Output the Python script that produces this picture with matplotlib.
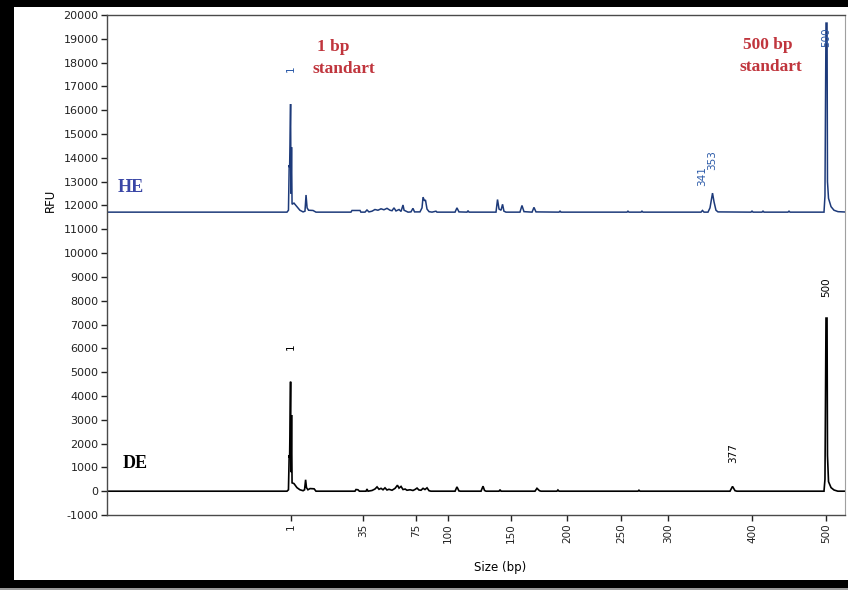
import numpy as np
import matplotlib
matplotlib.use("Agg")
import matplotlib.pyplot as plt
from matplotlib.patches import Rectangle

plt.rcParams["font.family"] = ["DejaVu Sans"]
plt.rcParams["axes.unicode_minus"] = False

# Size-standard calibration: fragment size (bp) -> scan position
LADDER_SIZES = [1, 35, 75, 100, 150, 200, 250, 300, 400, 500]
LADDER_SCANS = [184, 256, 309, 341, 404, 460, 514, 561, 645, 719]
SCAN_RANGE = (0, 738)
TICK_LABELS = ["1", "35", "75", "100", "150", "200", "250", "300", "400", "500"]

# Y axis ticks (RFU)
Y_TICKS = list(range(-1000, 20001, 1000))

# HE sample trace (size bp, RFU as displayed, offset above DE)
HE_TRACE = [
    (-90, 11720), (-0.9, 11720), (-0.2, 11800), (0.15, 13700), (0.35, 13600),
    (0.8, 16260), (1.0, 12500), (1.25, 14450), (1.5, 12050), (2.4, 12100),
    (3.8, 11950), (5.2, 11800), (6.7, 11730), (7.6, 11760), (8.1, 12440),
    (8.6, 11900), (9.3, 11800), (11.4, 11790), (12.8, 11720),
    (29.3, 11720), (29.8, 11790), (33.6, 11790), (34.0, 11720),
    (36.5, 11720), (38.0, 11810), (39.5, 11730), (41.8, 11760), (44.0, 11830),
    (46.3, 11800), (48.6, 11860), (50.8, 11820), (53.1, 11880), (55.4, 11800),
    (56.9, 11780), (58.4, 11900), (59.9, 11770), (62.2, 11830), (63.7, 11750),
    (65.2, 12020), (66.0, 11800), (67.5, 11760), (69.0, 11720),
    (71.2, 11730), (72.7, 11880), (73.9, 11730), (78.1, 11730), (79.7, 11900),
    (80.5, 12350), (81.6, 12200), (82.4, 12230), (83.6, 11850), (85.2, 11740),
    (87.5, 11720), (90.6, 11760), (91.4, 11720),
    (105.6, 11720), (107.1, 11900), (108.7, 11730), (115.1, 11720),
    (115.9, 11780), (116.7, 11720),
    (138.1, 11720), (139.3, 12250), (140.5, 11850), (142.1, 11800),
    (143.3, 12050), (144.4, 11760), (146.0, 11720),
    (158.0, 11720), (159.8, 12000), (161.6, 11740), (168.8, 11720),
    (170.5, 11920), (172.3, 11730),
    (192.9, 11720), (193.8, 11770), (194.6, 11720), (256.4, 11720),
    (257.4, 11760), (258.5, 11720), (271.3, 11720), (272.3, 11760), (273.4, 11720),
    (339.3, 11720), (341.0, 11790), (342.9, 11720), (347.6, 11720),
    (350.0, 11900), (353.0, 12520), (354.8, 12150), (357.1, 11800), (359.5, 11730),
    (398.8, 11720), (400.0, 11770), (401.4, 11720), (413.5, 11720),
    (414.9, 11770), (416.2, 11720), (448.6, 11720), (450.0, 11760), (451.4, 11720),
    (497.3, 11720), (498.6, 12400), (499.3, 16130), (500.0, 19660),
    (501.4, 19660), (502.0, 13000), (503.4, 12300), (506.8, 11950),
    (510.8, 11800), (516.2, 11740), (530, 11720),
]

# DE sample trace (size bp, RFU)
DE_TRACE = [
    (-90, 0), (-0.9, 0), (-0.2, 60), (0.15, 1520), (0.35, 1400), (0.8, 4600),
    (1.0, 800), (1.25, 3200), (1.5, 350), (2.4, 320), (3.8, 150), (5.2, 60),
    (6.7, 20), (7.4, 60), (7.9, 480), (8.3, 150), (9.0, 60), (10.0, 110),
    (11.9, 100), (12.8, 0),
    (31.2, 0), (31.7, 70), (32.6, 60), (33.3, 0),
    (37.3, 0), (38.0, 90), (38.8, 0),
    (41.8, 30), (44.0, 90), (45.6, 180), (47.1, 80), (48.6, 120), (50.1, 60),
    (51.6, 140), (53.1, 50), (54.6, 80), (56.9, 40), (59.2, 120), (61.0, 250),
    (62.2, 130), (63.7, 200), (65.2, 70), (66.8, 90), (68.2, 40), (70.5, 60),
    (72.7, 30), (74.2, 70), (75.8, 130), (77.3, 50), (78.9, 40), (80.5, 120),
    (82.0, 70), (83.6, 140), (85.2, 20), (86.7, 0),
    (105.6, 0), (107.1, 180), (108.7, 10), (110.0, 0),
    (126.2, 0), (127.8, 210), (129.0, 30), (130.2, 0),
    (140.5, 0), (141.3, 60), (142.1, 0),
    (171.4, 0), (173.2, 120), (175.4, 20), (176.8, 0),
    (191.0, 0), (191.9, 50), (192.9, 0),
    (268.1, 0), (269.1, 40), (270.2, 0),
    (373.8, 0), (376.8, 200), (379.8, 20), (382.1, 0),
    (497.3, 0), (498.6, 500), (499.3, 3740), (500.0, 7270), (501.4, 7270),
    (502.0, 1500), (503.4, 400), (506.8, 150), (510.8, 50), (516.0, 0), (530, 0),
]

# Called peaks (size labels)
HE_CALLS = [1, 341, 353, 500]
DE_CALLS = [1, 377, 500]


def _interp_ext(x, xp, fp):
    x = np.asarray(x, dtype=float)
    xp = np.asarray(xp, dtype=float)
    fp = np.asarray(fp, dtype=float)
    y = np.interp(x, xp, fp)
    lo_slope = (fp[1] - fp[0]) / (xp[1] - xp[0])
    hi_slope = (fp[-1] - fp[-2]) / (xp[-1] - xp[-2])
    y = np.where(x < xp[0], fp[0] + (x - xp[0]) * lo_slope, y)
    y = np.where(x > xp[-1], fp[-1] + (x - xp[-1]) * hi_slope, y)
    return y


def size_to_scan(s):
    return _interp_ext(s, LADDER_SIZES, LADDER_SCANS)


def scan_to_size(c):
    return _interp_ext(c, LADDER_SCANS, LADDER_SIZES)


W, H = 848, 590
fig = plt.figure(figsize=(W / 100, H / 100), dpi=100)
fig.patch.set_facecolor("black")
# window body
fig.patches.append(Rectangle((14 / W, 10 / H), 1 - 14 / W, 573 / H,
                             transform=fig.transFigure, facecolor="white",
                             edgecolor="none", zorder=-10))
fig.patches.append(Rectangle((0, 0), 1, 2.5 / H, transform=fig.transFigure,
                             facecolor="#9a9a9a", edgecolor="none", zorder=-10))

ax = fig.add_axes([107 / W, 75 / H, 738 / W, 500 / H])
ax.set_facecolor("white")
ax.set_xscale("function", functions=(size_to_scan, scan_to_size))
ax.set_xlim(float(scan_to_size(SCAN_RANGE[0])), float(scan_to_size(SCAN_RANGE[1])))
ax.set_ylim(-1000, 20000)

he_x, he_y = zip(*HE_TRACE)
de_x, de_y = zip(*DE_TRACE)
ax.plot(he_x, he_y, color="#1d3a7a", lw=1.1, solid_joinstyle="miter")
ax.plot(de_x, de_y, color="black", lw=1.2, solid_joinstyle="miter")


def peak_height(trace, size, win=2.0):
    xs = np.array([p[0] for p in trace])
    ys = np.array([p[1] for p in trace])
    m = (xs >= size - win) & (xs <= size + win)
    return ys[m].max()


he_offsets = {1: 32, 341: 24, 353: 23, 500: -24}
de_offsets = {1: 32, 377: 23, 500: 21}
for s in HE_CALLS:
    ax.annotate(str(s), xy=(s, peak_height(HE_TRACE, s)), xytext=(0, he_offsets[s]),
                textcoords="offset pixels", rotation=90, ha="center", va="bottom",
                fontsize=7.5, color="#2b5aa8")
for s in DE_CALLS:
    ax.annotate(str(s), xy=(s, peak_height(DE_TRACE, s)), xytext=(0, de_offsets[s]),
                textcoords="offset pixels", rotation=90, ha="center", va="bottom",
                fontsize=7.5, color="black")

# Axes styling
ax.set_xticks(LADDER_SIZES)
ax.set_xticklabels(TICK_LABELS, rotation=90, fontsize=7.5)
ax.set_yticks(Y_TICKS)
ax.set_yticklabels([str(v) for v in Y_TICKS], fontsize=8)
ax.minorticks_off()
ax.tick_params(axis="x", direction="out", length=4, width=1, pad=2, colors="#222222")
ax.tick_params(axis="y", direction="out", length=4.5, width=1, pad=1.5, colors="#222222")
for side in ("left", "top", "bottom"):
    ax.spines[side].set_color("#4a4a4a")
    ax.spines[side].set_linewidth(1)
ax.spines["right"].set_color("#a0a0a0")

ax.set_ylabel("RFU", fontsize=8.5)
ax.yaxis.set_label_coords(-0.068, 0.63)
ax.set_xlabel("Size (bp)", fontsize=8.5)
ax.xaxis.set_label_coords(0.5325, -0.092)

# Sample and standard labels
serif = ["Liberation Serif", "DejaVu Serif"]
ax.text(0.0149, 0.654, "HE", transform=ax.transAxes, fontsize=13, fontweight="bold",
        family=serif, color="#3a47a6", ha="left", va="center")
ax.text(0.0217, 0.104, "DE", transform=ax.transAxes, fontsize=13, fontweight="bold",
        family=serif, color="black", ha="left", va="center")
red = "#c0353d"
ax.text(0.2846, 0.936, "1 bp", transform=ax.transAxes, fontsize=12.5, fontweight="bold",
        family=serif, color=red, ha="left", va="center")
ax.text(0.2778, 0.892, "standart", transform=ax.transAxes, fontsize=12.5, fontweight="bold",
        family=serif, color=red, ha="left", va="center")
ax.text(0.8618, 0.940, "500 bp", transform=ax.transAxes, fontsize=12.5, fontweight="bold",
        family=serif, color=red, ha="left", va="center")
ax.text(0.8564, 0.896, "standart", transform=ax.transAxes, fontsize=12.5, fontweight="bold",
        family=serif, color=red, ha="left", va="center")

fig.savefig("out.png", dpi=100, facecolor=fig.get_facecolor())
